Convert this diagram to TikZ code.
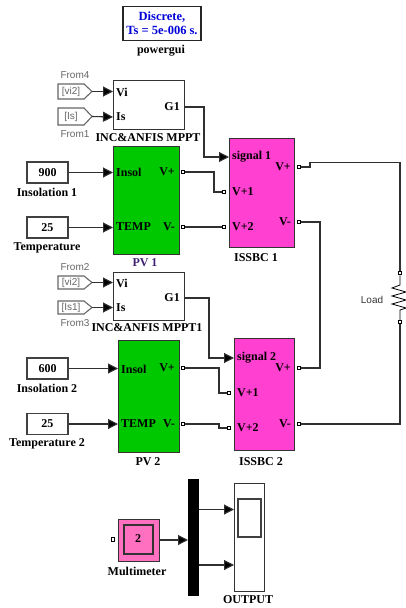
\documentclass[tikz,border=0pt]{standalone}
\usepackage{fontspec}
\setmainfont{Liberation Serif}
\newfontfamily\labelsans{Liberation Sans}
\usetikzlibrary{arrows.meta,shapes.geometric}
\definecolor{wirec}{HTML}{303030}
\definecolor{greenb}{HTML}{00C800}
\definecolor{pinkb}{HTML}{FF40D0}
\definecolor{meterb}{HTML}{FF70C0}
\definecolor{pvlab}{HTML}{402070}
\tikzset{
 x=1pt,y=-1pt,
 wire/.style={draw=wirec,line width=1.1pt},
 sig/.style={wire,-{Triangle[length=10pt,width=10pt,fill=black]}},
 blk/.style={draw=black!75,line width=1.1pt,fill=white,inner sep=0pt,minimum width=#1},
 tb/.style={font=\bfseries\fontsize{12}{13}\selectfont,inner sep=0pt},
 pl/.style={tb,text=pvlab},
 ft/.style={font=\labelsans\fontsize{10}{11}\selectfont,text=black!60,inner sep=0pt},
 port/.style={draw=black,line width=1pt,fill=white,minimum size=3.5pt,inner sep=0pt,rectangle},
}
\newcommand{\boxat}[6]{\node[draw=black!80,line width=1.1pt,fill=#6,inner sep=0pt,anchor=north west,minimum width=#4-#2,minimum height=#5-#3] (#1) at (#2,#3) {};}
\newcommand{\gotoat}[4]{% name, y top, y bottom, text
 \coordinate (#1) at (92,{(#2+#3)/2});
 \draw[draw=black!60,line width=1.1pt,fill=white] (58,#2) -- (84,#2) -- (92,{(#2+#3)/2}) -- (84,#3) -- (58,#3) -- cycle;
 \node[font=\labelsans\fontsize{10}{11}\selectfont,text=black!60,inner sep=0pt] at (71,{(#2+#3)/2}) {#4};}
\begin{document}
\begin{tikzpicture}
\useasboundingbox (0,0) rectangle (406,608);
% powergui
\node[draw=black!85,line width=1.1pt,fill=white,inner sep=0pt,minimum width=78pt,minimum height=34pt,align=center,text=blue!85!black,font=\bfseries\fontsize{12.5}{14}\selectfont] (pg) at (162,23.5) {Discrete,\\Ts = 5e-006 s.};
\node[tb] (pgl) at (161,51) {powergui};
% MPPT 1
\boxat{mA}{113}{80}{184}{129}{white}
\node[ft] (fa) at (75,75) {From4};
\node[ft] (fb) at (75,134.5) {From1};
\gotoat{ga}{84}{99}{[vi2]}
\gotoat{gb}{108}{125}{[Is]}
\coordinate (mAv) at (113,91.5); \coordinate (mAi) at (113,117); \coordinate (mAg) at (184,107);
\draw[sig] (ga) -- (mAv);
\draw[sig] (gb) -- (mAi);
\node[tb,anchor=west] (va) at (116,92) {Vi};
\node[tb,anchor=west] (ia) at (116,117) {Is};
\node[tb,anchor=east] (ga1) at (180,107) {G1};
\node[tb] (mAl) at (148,138) {INC\&ANFIS MPPT};
% MPPT 2
\boxat{mB}{113}{272}{184}{320}{white}
\node[ft] (fc) at (75,267.5) {From2};
\node[ft] (fd) at (75,323.5) {From3};
\gotoat{gc}{276}{289}{[vi2]}
\gotoat{gd}{301}{314}{[Is1]}
\coordinate (mBv) at (113,282.5); \coordinate (mBi) at (113,307.5); \coordinate (mBg) at (184,298);
\draw[sig] (gc) -- (mBv);
\draw[sig] (gd) -- (mBi);
\node[tb,anchor=west] (vb) at (116,283) {Vi};
\node[tb,anchor=west] (ib) at (116,308) {Is};
\node[tb,anchor=east] (gb1) at (180,298) {G1};
\node[tb] (mBl) at (147,328) {INC\&ANFIS MPPT1};
% PV 1
\boxat{pA}{113}{146}{179}{254}{greenb}
\node[tb,anchor=west] (pAi) at (116,172) {Insol};
\node[tb,anchor=west] (pAt) at (116,227) {TEMP};
\node[tb,anchor=east] (pAp) at (175,172) {V+};
\node[tb,anchor=east] (pAm) at (175,227) {V-};
\node[pl] (pAl) at (145,263) {PV 1};
% PV 2
\boxat{pB}{118}{340}{179}{452}{greenb}
\node[tb,anchor=west] (pBi) at (121,369) {Insol};
\node[tb,anchor=west] (pBt) at (121,424) {TEMP};
\node[tb,anchor=east] (pBp) at (175,368) {V+};
\node[tb,anchor=east] (pBm) at (175,424) {V-};
\node[tb] (pBl) at (148,462) {PV 2};
% constants
\node[blk=41pt,minimum height=21pt,tb] (c1) at (47.5,172.5) {900};
\node[blk=41pt,minimum height=21pt,tb] (c2) at (47.5,227.5) {25};
\node[blk=41pt,minimum height=21pt,tb] (c3) at (47.5,368.5) {600};
\node[blk=41pt,minimum height=21pt,tb] (c4) at (47.5,424) {25};
\node[tb] (c1l) at (47,192) {Insolation 1};
\node[tb] (c2l) at (47,248) {Temperature};
\node[tb] (c3l) at (47,388) {Insolation 2};
\node[tb] (c4l) at (47,444) {Temperature 2};
\coordinate (pA1) at (113,172.5); \coordinate (pA2) at (113,227.5);
\coordinate (pB1) at (118,368.5); \coordinate (pB2) at (118,424);
\draw[sig] (c1) -- (pA1);
\draw[sig] (c2) -- (pA2);
\draw[sig] (c3) -- (pB1);
\draw[sig] (c4) -- (pB2);
% ISSBC 1
\boxat{iA}{229}{138}{294}{247}{pinkb}
\node[tb,anchor=west] (iAs) at (232,157) {signal 1};
\node[tb,anchor=west] (iA1) at (232,192) {V+1};
\node[tb,anchor=west] (iA2) at (232,227) {V+2};
\node[tb,anchor=east] (iAp) at (291,167) {V+};
\node[tb,anchor=east] (iAm) at (291,222) {V-};
\node[tb] (iAl) at (256,258) {ISSBC 1};
% ISSBC 2
\boxat{iB}{234}{338}{294}{450}{pinkb}
\node[tb,anchor=west] (iBs) at (237,358) {signal 2};
\node[tb,anchor=west] (iB1) at (237,393) {V+1};
\node[tb,anchor=west] (iB2) at (237,428) {V+2};
\node[tb,anchor=east] (iBp) at (291,368) {V+};
\node[tb,anchor=east] (iBm) at (291,424) {V-};
\node[tb] (iBl) at (261,462) {ISSBC 2};
% signal wires
\coordinate (iAsi) at (229,157); \coordinate (iBsi) at (234,358);
\draw[sig] (mAg) -| (204,157) -- (iAsi);
\draw[sig] (mBg) -| (209,358) -- (iBsi);
% ports
\node[port] (pt1) at (183,172) {};
\node[port] (pt2) at (183,227) {};
\node[port] (pt3) at (224,192) {};
\node[port] (pt4) at (224,227) {};
\node[port] (pt5) at (183,368) {};
\node[port] (pt6) at (183,424) {};
\node[port] (pt7) at (229,393) {};
\node[port] (pt8) at (229,428) {};
\node[port] (pt9) at (299,167) {};
\node[port] (pt10) at (299,222) {};
\node[port] (pt11) at (299,368) {};
\node[port] (pt12) at (299,424) {};
\node[port] (rt) at (400,273) {};
\node[port] (rb) at (400,322) {};
\draw[wire] (pt1) -| (214,192) -- (pt3);
\draw[wire] (pt2) -- (pt4);
\draw[wire] (pt5) -| (219,393) -- (pt7);
\draw[wire] (pt6) -| (219,428) -- (pt8);
\draw[wire] (pt9) -- (310,167) -- (310,162.5) -- (400,162.5) -- (rt);
\draw[wire] (pt10) -- (320,222) -- (320,368) -- (pt11);
\draw[wire] (pt12) -- (400,424) -- (rb);
% resistor
\draw[draw=black,line width=0.8pt] (rt) -- (400,285) -- (392,288) -- (406,292) -- (392,296) -- (406,300) -- (392,304) -- (406,308) -- (400,310) -- (rb);
\node[font=\labelsans\fontsize{10}{11}\selectfont,text=black!80,inner sep=0pt] (ll) at (372,300) {Load};
% bottom
\boxat{mm}{118}{519}{159}{561}{meterb}
\draw[draw=black!80,line width=1.1pt] (124,525) rectangle (153,554);
\node[tb,font=\bfseries\fontsize{12}{13}\selectfont] (mmt) at (138,539) {2};
\node[port] (mmp) at (113,539.5) {};
\node[tb] (mml) at (137,571) {Multimeter};
\node[fill=black,inner sep=0pt,minimum width=11pt,minimum height=117pt] (bar) at (193.5,537.5) {};
\coordinate (mmo) at (159,540); \coordinate (bi) at (188,540);
\draw[sig] (mmo) -- (bi);
\boxat{sc}{234}{483}{264}{591}{white}
\draw[draw=black!75,line width=1.1pt] (238,499) rectangle (261,537);
\coordinate (b1) at (199,509.5); \coordinate (b2) at (199,565);
\coordinate (s1) at (234,509.5); \coordinate (s2) at (234,565);
\draw[sig] (b1) -- (s1);
\draw[sig] (b2) -- (s2);
\node[tb] (scl) at (248,600) {OUTPUT};
\end{tikzpicture}
\end{document}
